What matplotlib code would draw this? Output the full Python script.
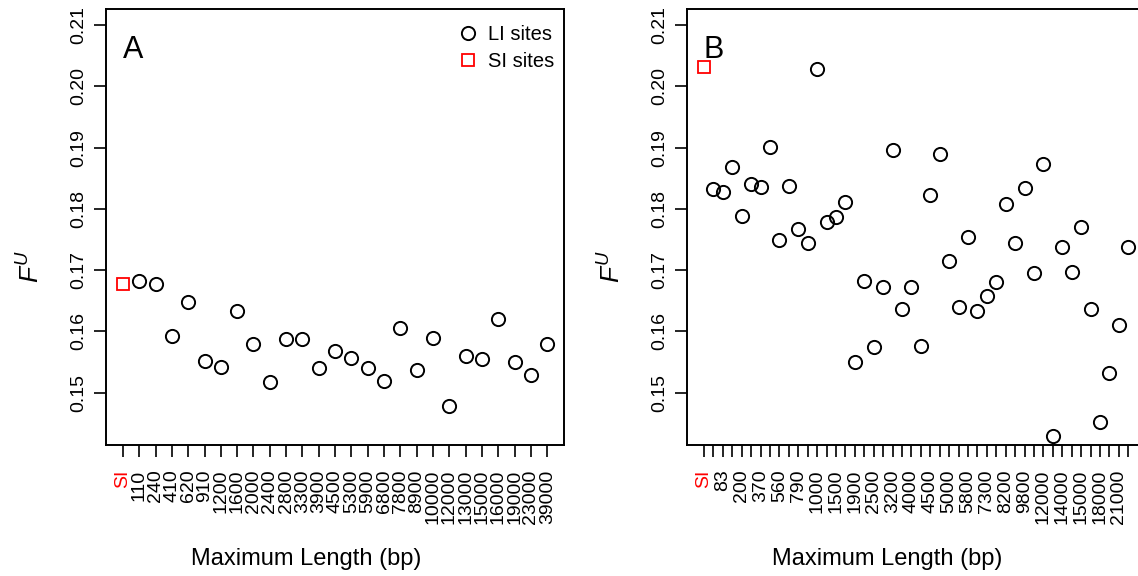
import matplotlib.pyplot as plt
from matplotlib.lines import Line2D

plt.rcParams['font.family'] = ['Liberation Sans', 'DejaVu Sans']
plt.rcParams['mathtext.fontset'] = 'custom'
plt.rcParams['mathtext.rm'] = 'Liberation Sans'
plt.rcParams['mathtext.it'] = 'Liberation Sans:italic'

# panel A: F^U for SI sites, then LI sites binned by maximum length
si_a = 0.1677
lengths_a = ['110', '240', '410', '620', '910', '1200', '1600', '2000', '2400',
             '2800', '3300', '3900', '4500', '5300', '5900', '6800', '7800',
             '8900', '10000', '12000', '13000', '15000', '16000', '19000',
             '23000', '39000']
fu_a = [0.1683, 0.1677, 0.1593, 0.1648, 0.1552, 0.1542, 0.1633, 0.1580, 0.1517,
        0.1588, 0.1588, 0.1540, 0.1568, 0.1556, 0.1540, 0.1519, 0.1605, 0.1537,
        0.1589, 0.1478, 0.1560, 0.1555, 0.1621, 0.1550, 0.1529, 0.1579]

# panel B: finer bins, only every other label fits on the axis
si_b = 0.2032
lengths_b = ['', '83', '', '200', '', '370', '', '560', '', '790', '', '1000',
             '', '1500', '', '1900', '', '2500', '', '3200', '', '4000', '',
             '4500', '', '5000', '', '5800', '', '7300', '', '8200', '', '9800',
             '', '12000', '', '14000', '', '15000', '', '18000', '', '21000', '']
fu_b = [0.1833, 0.1828, 0.1868, 0.1789, 0.1841, 0.1836, 0.1901, 0.1750, 0.1837,
        0.1767, 0.1744, 0.2029, 0.1778, 0.1787, 0.1812, 0.1550, 0.1682, 0.1574,
        0.1672, 0.1896, 0.1636, 0.1672, 0.1576, 0.1822, 0.1889, 0.1715, 0.1640,
        0.1754, 0.1634, 0.1658, 0.1681, 0.1808, 0.1744, 0.1834, 0.1695, 0.1873,
        0.1429, 0.1738, 0.1697, 0.1771, 0.1637, 0.1453, 0.1532, 0.1611, 0.1737]

yticks = [0.15, 0.16, 0.17, 0.18, 0.19, 0.20, 0.21]


def panel(ax, si, lengths, fu, letter, red_tick):
    n = len(lengths) + 1
    x = list(range(1, n))
    ax.plot([0], [si], 's', ms=8, mfc='none', mec='red', mew=1.3)
    ax.plot(x, fu, 'o', ms=9.5, mfc='none', mec='black', mew=1.4)
    pad = 0.04 * (n - 1)
    ax.set_xlim(-pad, n - 1 + pad)
    ax.set_ylim(0.14147, 0.21256)
    ax.set_xticks(range(n))
    ax.set_xticklabels(['SI'] + lengths, rotation=90, fontsize=14)
    ax.set_yticks(yticks)
    ax.set_yticklabels(['%.2f' % v for v in yticks], rotation=90,
                       va='center', fontsize=14)
    ax.tick_params(axis='both', direction='out', length=8.6, width=1.2)
    ax.tick_params(axis='x', pad=9)
    ax.tick_params(axis='y', pad=5)
    first = ax.xaxis.get_major_ticks()[0]
    first.label1.set_color('red')
    if red_tick:
        first.tick1line.set_color('red')
    for s in ax.spines.values():
        s.set_linewidth(1.4)
    ax.set_xlabel('Maximum Length (bp)', fontsize=17, va='center')
    ax.xaxis.set_label_coords(0.437, -0.262)
    ax.set_ylabel(r'$F^U$', fontsize=19, va='center')
    ax.yaxis.set_label_coords(-0.164, 0.41)
    ax.text(0.037, 0.888, letter, transform=ax.transAxes, fontsize=22,
            ha='left', va='baseline')


fig = plt.figure(figsize=(11.38, 5.76), dpi=100)
ax_a = fig.add_axes([0.0931, 0.2274, 0.4027, 0.7564])
ax_b = fig.add_axes([0.6037, 0.2274, 0.4027, 0.7564])

panel(ax_a, si_a, lengths_a, fu_a, 'A', True)
panel(ax_b, si_b, lengths_b, fu_b, 'B', False)

handles = [Line2D([], [], ls='none', marker='o', ms=9.5, mfc='none', mec='black', mew=1.4),
           Line2D([], [], ls='none', marker='s', ms=8, mfc='none', mec='red', mew=1.3)]
ax_a.legend(handles, ['LI sites', 'SI sites'], loc='upper right',
            bbox_to_anchor=(0.9775, 0.964), frameon=False, fontsize=14.5,
            borderpad=0, borderaxespad=0, handlelength=1.0, handletextpad=0.5,
            labelspacing=0.42)

plt.savefig('out.png', dpi=100)
plt.close()
